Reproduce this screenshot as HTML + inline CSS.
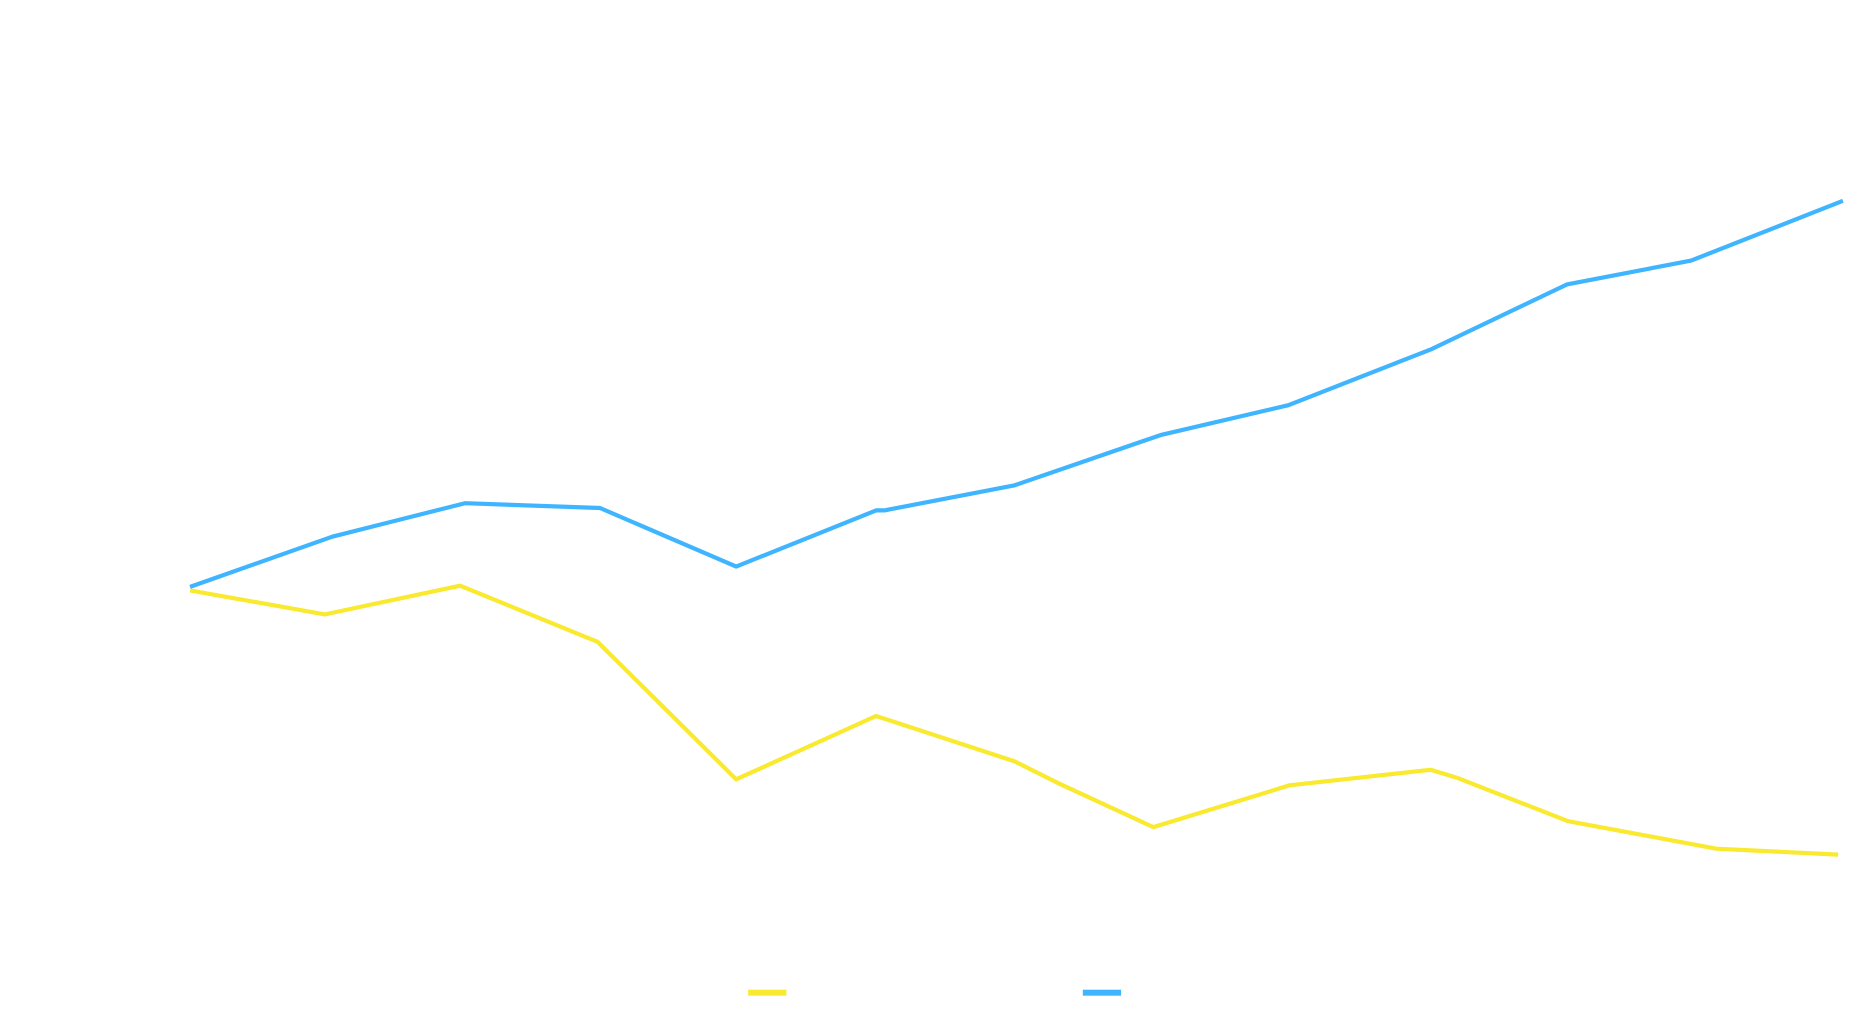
<!DOCTYPE html>
<html><head><style>html,body{margin:0;padding:0;background:#fff;}svg{display:block;}</style></head>
<body>
<svg width="1874" height="1016" viewBox="0 0 1568 850" preserveAspectRatio="none" xmlns="http://www.w3.org/2000/svg">
<rect width="1568" height="850" fill="#fff"/>
<polyline fill="none" stroke="#f9e92f" stroke-width="3.5" stroke-linejoin="round" points="159,494 272,514 385,490 500,537 616,652 733,599 849,637 885,655 965,692 1079,657 1197,644 1220,651 1312,687 1436,710 1538,715"/>
<polyline fill="none" stroke="#3fb5ff" stroke-width="3.5" stroke-linejoin="round" points="159,491 278,449 389,421 502,425 616,474 733,427 740,427 849,406 971,364 1078,339 1198,292 1311,238 1415,218 1542,168"/>
<rect x="626" y="828" width="32" height="5" fill="#f9e92f"/>
<rect x="906" y="828" width="32" height="5" fill="#3fb5ff"/>
</svg>
</body></html>
